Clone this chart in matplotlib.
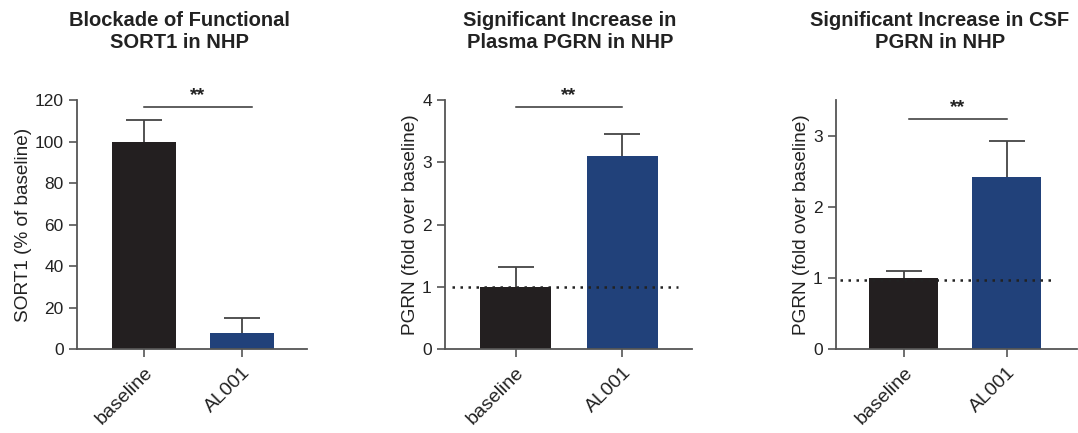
import numpy as np
import matplotlib.pyplot as plt

plt.rcParams['font.family'] = ['Liberation Sans', 'DejaVu Sans']

groups = ['baseline', 'AL001']
titles = ['Blockade of Functional\nSORT1 in NHP',
          'Significant Increase in\nPlasma PGRN in NHP',
          'Significant Increase in CSF\nPGRN in NHP']
ylabels = ['SORT1 (% of baseline)',
           'PGRN (fold over baseline)',
           'PGRN (fold over baseline)']
sort1_mean = [100, 7.5]
sort1_err = [10.5, 7.5]
plasma_mean = [1.0, 3.1]
plasma_err = [0.32, 0.35]
csf_mean = [1.0, 2.42]
csf_err = [0.09, 0.5]

means = [sort1_mean, plasma_mean, csf_mean]
errs = [sort1_err, plasma_err, csf_err]
ylims = [120, 4, 3.5]
yticks = [np.arange(0, 121, 20), np.arange(0, 5, 1), np.arange(0, 4, 1)]
sig_y = [116.5, 3.88, 3.23]
sig_x = [(0, 1.1), (0, 1.0), (0.05, 1.0)]
dot_y = [None, 1.0, 0.97]
dot_x = [None, (-0.59, 1.52), (-0.62, 1.45)]
xlims = [(-0.68, 1.66), (-0.66, 1.65), (-0.66, 1.68)]
widths = [0.65, 0.66, 0.67]

boxes = [[0.0714, 0.194, 0.2134, 0.575],
         [0.4128, 0.194, 0.2291, 0.575],
         [0.7755, 0.194, 0.2236, 0.575]]
title_x = [179, 570, 940]

colors = ['#231f20', '#21417a']
gray = '#555555'

fig = plt.figure(figsize=(10.78, 4.33), dpi=100)

for i in range(3):
    ax = fig.add_axes(boxes[i])
    x = np.arange(2)
    ax.bar(x, means[i], width=widths[i], color=colors, zorder=2)
    eb = ax.errorbar(x, means[i], yerr=[[0, 0], errs[i]], fmt='none',
                     ecolor='#444444', elinewidth=1.3, capsize=13, capthick=1.3, zorder=1)
    # only the upper cap is shown
    eb[1][0].set_visible(False)
    if dot_y[i] is not None:
        ax.plot(dot_x[i], [dot_y[i]] * 2, ls=(0, (1, 2.2)), color='#222222', lw=1.8, zorder=3)
    ax.plot(sig_x[i], [sig_y[i]] * 2, color='#333333', lw=1.1, clip_on=False)
    ax.text(np.mean(sig_x[i]), sig_y[i] + ylims[i] * 0.012, '**', ha='center', va='bottom',
            fontsize=14, fontweight='bold', color='#222222')
    ax.set_xlim(*xlims[i])
    ax.set_ylim(0, ylims[i])
    ax.set_yticks(yticks[i])
    ax.set_xticks(x)
    ax.set_xticklabels(groups, rotation=45, ha='right', rotation_mode='anchor',
                       fontsize=14, color='#222222')
    ax.tick_params(axis='y', labelsize=12.5, labelcolor='#222222', color=gray,
                   length=6, width=1.2)
    ax.tick_params(axis='x', color=gray, length=6, width=1.2, pad=5)
    for s in ['top', 'right']:
        ax.spines[s].set_visible(False)
    for s in ['left', 'bottom']:
        ax.spines[s].set_color(gray)
        ax.spines[s].set_linewidth(1.3)
    ax.set_ylabel(ylabels[i], fontsize=13.7, color='#222222', labelpad=2)
    fig.text(title_x[i] / 1078, 1 - 32 / 433, titles[i], ha='center', va='center',
             fontsize=14.5, fontweight='bold', color='#222222', linespacing=1.2)

plt.savefig('out.png', dpi=100)
